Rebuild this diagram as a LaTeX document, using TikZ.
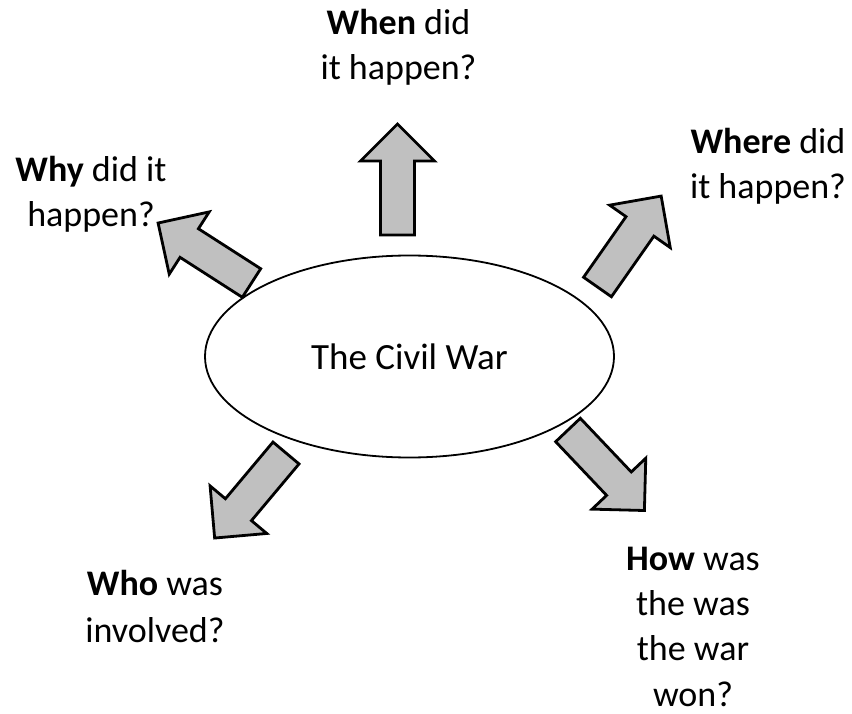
\documentclass[tikz,border=0pt]{standalone}
\usepackage{fontspec}
\setmainfont{Carlito}
\usetikzlibrary{shapes.geometric}
\tikzset{
  bigtext/.style={font=\fontsize{36}{45}\selectfont, align=center, inner sep=0pt},
  blockarrow/.style={draw=black, line width=2.8pt, fill={rgb,255:red,192;green,192;blue,192}, line join=miter},
  mainoval/.style={ellipse, draw=black, line width=1.8pt, minimum width=409pt, minimum height=202pt, inner sep=0pt, font=\fontsize{37}{45}\selectfont}
}
\newcommand{\myblockarrow}[4]{%
  \draw[blockarrow, shift={(#1,#2)}, rotate=#3] (0,-17) -- (74,-17) -- (74,-37) -- (111,0) -- (74,37) -- (74,17) -- (0,17) -- cycle;
  \coordinate (#4) at (#1,#2);
}
\begin{document}
\begin{tikzpicture}[x=1pt,y=-1pt]
\useasboundingbox (0,0) rectangle (852,714);
\node[mainoval] (war) at (409.5,356.5) {The Civil War};
\myblockarrow{397.5}{235}{90}{awhen}
\myblockarrow{251.5}{283}{147.3}{awhy}
\myblockarrow{597.5}{287}{55}{awhere}
\myblockarrow{286}{453}{230}{awho}
\myblockarrow{568}{430}{-46.5}{ahow}
\node[bigtext, anchor=base] (when) at (398.5,80) {\textbf{When} did\\it happen?};
\node[bigtext, anchor=base] (why) at (91,227) {\textbf{Why} did it\\happen?};
\node[bigtext, anchor=base] (where) at (768,199) {\textbf{Where} did\\it happen?};
\node[bigtext, anchor=base, font=\fontsize{36}{47}\selectfont] (who) at (155,642) {\textbf{Who} was\\involved?};
\node[bigtext, anchor=base, font=\fontsize{36}{45.3}\selectfont] (how) at (693,706) {\textbf{How} was\\the was\\the war\\won?};
\end{tikzpicture}
\end{document}
